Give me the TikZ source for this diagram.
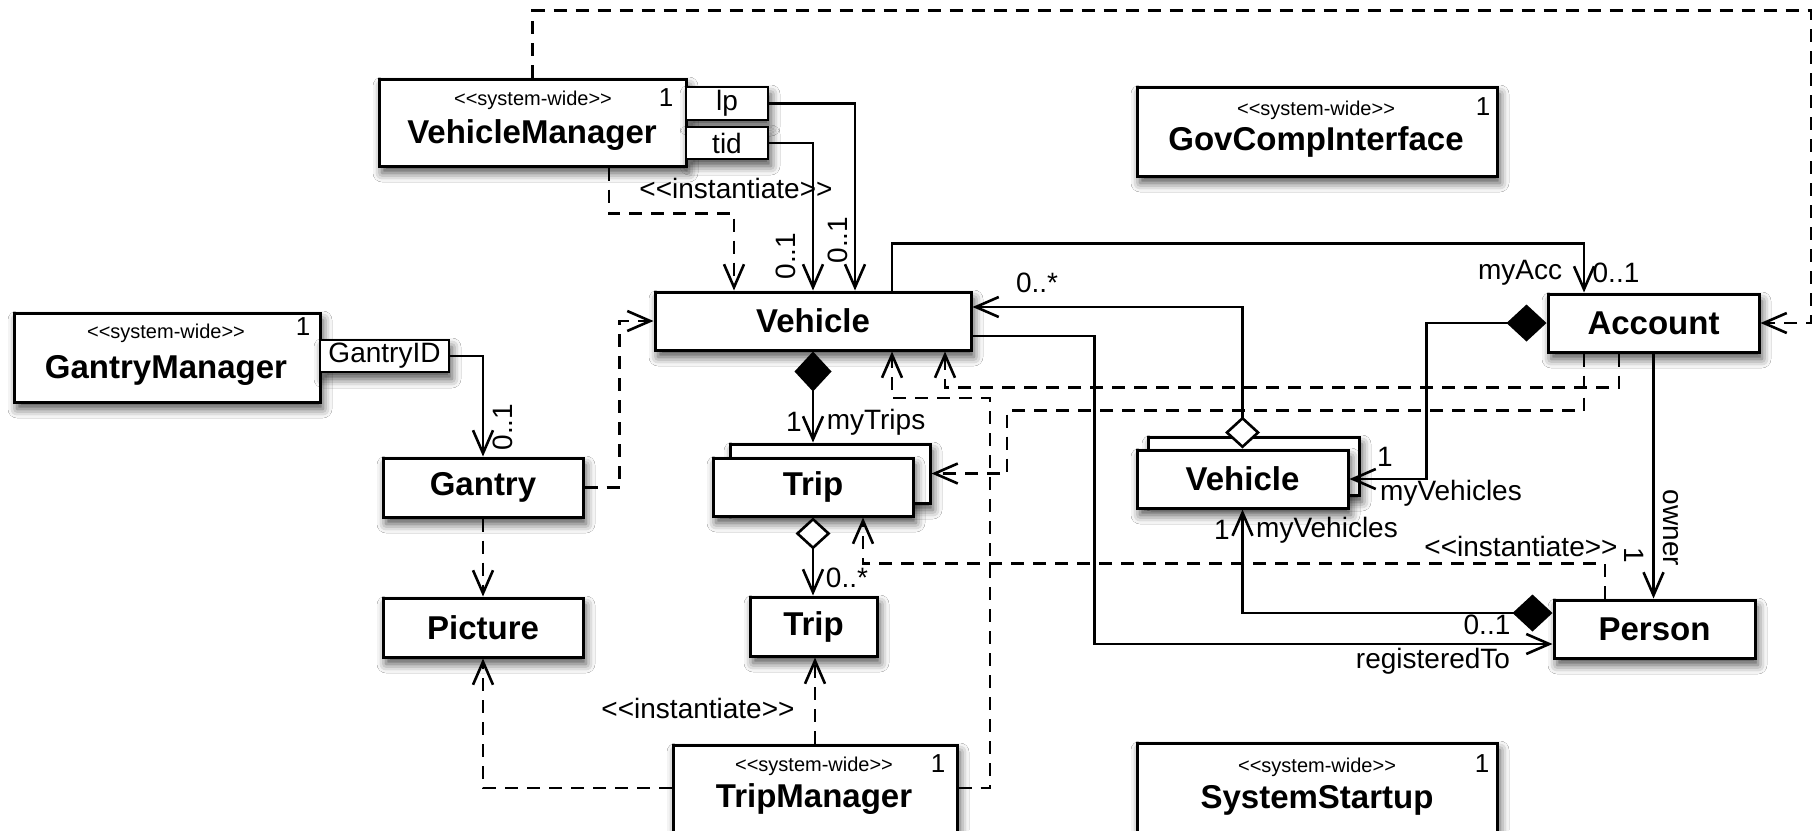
\documentclass[tikz,border=0pt]{standalone}
\usepackage{fontspec}
\setmainfont{Liberation Sans}
\usetikzlibrary{arrows.meta,shadows.blur,calc}
\newcommand{\dlt}{<\kern0pt<}
\newcommand{\dgt}{>\kern0pt>}
\tikzset{
  OV/.tip={Straight Barb[length=23pt,width=20pt]},
  FD/.tip={Diamond[length=40pt,width=37pt]},
  OD/.tip={Diamond[length=32pt,width=35pt,fill=white]},
  shad/.style={blur shadow={shadow xshift=3pt, shadow yshift=-7pt, shadow blur radius=9pt, shadow opacity=70}},
  box/.style={draw, line width=3pt, fill=white, inner sep=0pt, shad, font=\fontsize{33}{38}\selectfont\bfseries},
  qual/.style={draw, line width=2.6pt, fill=white, inner sep=0pt, shad, font=\fontsize{28}{32}\selectfont},
  stereo/.style={font=\fontsize{20}{24}\selectfont, inner sep=0pt},
  cname/.style={font=\fontsize{33}{38}\selectfont\bfseries, inner sep=0pt},
  mult/.style={font=\fontsize{26}{30}\selectfont, inner sep=0pt},
  lbl/.style={font=\fontsize{28}{32}\selectfont, inner sep=0pt},
  conn/.style={line width=2.6pt},
  dep/.style={line width=2.6pt, dash pattern=on 13pt off 9pt},
}
\begin{document}
\begin{tikzpicture}[x=1pt,y=-1pt]
\useasboundingbox (0,0) rectangle (1820,830);
\fill[white] (0,0) rectangle (1820,830);

% ---------- classes ----------
\node[box, minimum width=307pt, minimum height=87pt] (vm) at (532.5,122.5) {};
\node[stereo] (vmst) at (533,100) {\dlt system-wide\dgt};
\node[cname] (vmnm) at (532,135) {VehicleManager};
\node[mult] (vm1) at (666,98) {1};
\node[qual, minimum width=82pt, minimum height=33pt] (lp) at (727,103.5) {lp};
\node[qual, minimum width=82pt, minimum height=32pt] (tid) at (727,143) {tid};

\node[box, minimum width=360pt, minimum height=89pt] (gci) at (1317,131.5) {};
\node[stereo] (gcist) at (1316,110) {\dlt system-wide\dgt};
\node[cname] (gcinm) at (1316,142) {GovCompInterface};
\node[mult] (gci1) at (1483,107) {1};

\node[box, minimum width=306pt, minimum height=89pt] (gm) at (167,357.5) {};
\node[stereo] (gmst) at (166,333) {\dlt system-wide\dgt};
\node[cname] (gmnm) at (166,370) {GantryManager};
\node[mult] (gm1) at (303,327) {1};
\node[qual, minimum width=129pt, minimum height=32pt] (gid) at (384.5,356) {GantryID};

\node[box, minimum width=316pt, minimum height=58pt] (veh) at (813,321) {Vehicle};
\node[box, minimum width=211pt, minimum height=58pt] (acc) at (1653.5,323) {Account};
\node[box, minimum width=200pt, minimum height=59pt] (gan) at (483,487.5) {Gantry};
\node[box, minimum width=200pt, minimum height=59pt] (pic) at (483,627.5) {Picture};
\node[box, minimum width=200pt, minimum height=59pt] (tripB) at (830,473.5) {};
\node[box, minimum width=200pt, minimum height=58pt] (tripF) at (813,487) {Trip};
\node[box, minimum width=127pt, minimum height=59pt] (trip2) at (813.5,626.5) {Trip};
\node[box, minimum width=211pt, minimum height=58pt] (vehB) at (1253.5,466) {};
\node[box, minimum width=211pt, minimum height=58pt] (vehF) at (1242.5,479) {Vehicle};
\node[box, minimum width=201pt, minimum height=58pt] (per) at (1654.5,629) {Person};

\node[box, minimum width=284pt, minimum height=100pt] (tm) at (815,795) {};
\node[stereo] (tmst) at (814,766) {\dlt system-wide\dgt};
\node[cname] (tmnm) at (814,799) {TripManager};
\node[mult] (tm1) at (938,764) {1};

\node[box, minimum width=360pt, minimum height=100pt] (ss) at (1317,793) {};
\node[stereo] (ssst) at (1317,767) {\dlt system-wide\dgt};
\node[cname] (ssnm) at (1317,800) {SystemStartup};
\node[mult] (ss1) at (1482,764) {1};

% ---------- connectors ----------
% VehicleManager qualifiers -> Vehicle
\draw[conn,-OV] (lp.east) -| ([xshift=42pt]veh.north);
\draw[conn,-OV] (tid.east) -| (veh.north);
\draw[dep,-OV] ([xshift=76.5pt]vm.south) -- ++(0,46) -| ([xshift=-79pt]veh.north);
\node[lbl] (li1) at (736,188) {\dlt instantiate\dgt};
\node[lbl, rotate=90] (lm1) at (786,256) {0..1};
\node[lbl, rotate=90] (lm2) at (838,240) {0..1};

% VehicleManager -> Account (dependency)
\draw[dep,-OV] (vm.north) -- ++(0,-67) -| (1811,323) -- (acc.east);

% GantryManager -> Gantry
\draw[conn,-OV] (gid.east) -| (gan.north);
\node[lbl, rotate=90] (lm3) at (503,427) {0..1};

% Gantry -> Vehicle, Gantry -> Picture
\draw[dep,-OV] (gan.east) -- ++(35,0) |- (veh.west);
\draw[dep,-OV] (gan.south) -- (pic.north);

% Vehicle -> Account
\draw[conn,-OV] ([xshift=79pt]veh.north) -- ++(0,-47) -| ([xshift=-69.5pt]acc.north);
\node[lbl] (lacc) at (1520,273) {myAcc};
\node[lbl] (lacc2) at (1616,273) {0..1};

% Vehicle (stack) aggregation -> Vehicle
\draw[conn,OD-OV] (vehF.north) |- ([yshift=14pt]veh.east);
\node[lbl] (lvs) at (1037,283) {0..*};

% Vehicle -> Person registeredTo
\draw[conn,-OV] ([yshift=-15pt]veh.east) -- ++(122,0) |- ([yshift=-15pt]per.west);
\node[lbl] (lreg) at (1433,661) {registeredTo};

% Account composition -> Vehicle stack
\draw[conn,FD-OV] (acc.west) -- ++(-120,0) |- (vehF.east);
\node[lbl] (la1) at (1385,457) {1};
\node[lbl] (la2) at (1451,493) {myVehicles};

% Person composition -> Vehicle stack
\draw[conn,FD-OV] ([yshift=16pt]per.west) -| (vehF.south);
\node[lbl] (lp1) at (1222,530) {1};
\node[lbl] (lp2) at (1327,530) {myVehicles};
\node[lbl] (lp3) at (1487,625) {0..1};

% Account owner -> Person
\draw[conn,-OV] (acc.south) -- (acc.south |- per.north);
\node[lbl, rotate=-90] (low) at (1671,528) {owner};
\node[lbl, rotate=-90] (low1) at (1634,555) {1};

% Vehicle composition -> Trip stack
\draw[conn,FD-OV] (veh.south) -- (veh.south |- tripB.north);
\node[lbl] (lt1) at (794,422) {1};
\node[lbl] (lt2) at (876,422) {myTrips};

% Trip aggregation -> Trip
\draw[conn,OD-OV] (tripF.south) -- (tripF.south |- trip2.north);
\node[lbl] (lt3) at (847,578) {0..*};

% TripManager dependencies
\draw[dep,-OV] (tm.north) -- (tm.north |- trip2.south);
\node[lbl] (li2) at (698,708) {\dlt instantiate\dgt};
\draw[dep,-OV] ([yshift=7pt]tm.west) -| (pic.south);
\draw[dep,-OV] ([yshift=7pt]tm.east) -| (990,398) -| ([xshift=79pt]veh.south);

% Account dependencies
\draw[dep,-OV] ([xshift=-34.5pt]acc.south) -- ++(0,34) -| ([xshift=132pt]veh.south);
\draw[dep,-OV] ([xshift=-69.5pt]acc.south) -- ++(0,57) -| (1007,473.5) -- (tripB.east);

% Person -> Trip (instantiate)
\draw[dep,-OV] ([xshift=-49.5pt]per.north) -- ++(0,-35) -| ([xshift=50pt]tripF.south);
\node[lbl] (li3) at (1521,546) {\dlt instantiate\dgt};
\end{tikzpicture}
\end{document}
